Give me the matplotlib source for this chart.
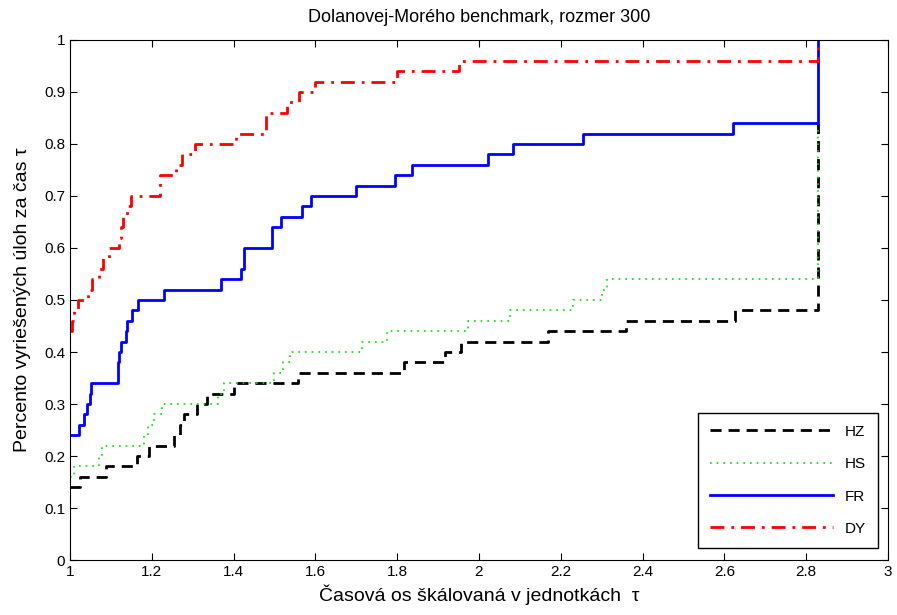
import matplotlib.pyplot as plt

plt.rcParams['font.family'] = ['Liberation Sans', 'DejaVu Sans']

# -------------------------
# Data (performance profiles, step functions)
# -------------------------
hz_tau = [1.0, 1.025, 1.087, 1.165, 1.193, 1.254, 1.27, 1.279, 1.31, 1.334, 1.40,
          1.558, 1.817, 1.918, 1.955, 2.168, 2.36, 2.627, 2.83]
hz_val = [0.14, 0.16, 0.18, 0.20, 0.22, 0.24, 0.26, 0.28, 0.30, 0.32, 0.34,
          0.36, 0.38, 0.40, 0.42, 0.44, 0.46, 0.48, 0.84]

hs_tau = [1.0, 1.01, 1.071, 1.079, 1.18, 1.19, 1.205, 1.225, 1.362, 1.377, 1.50,
          1.52, 1.538, 1.713, 1.774, 1.974, 2.076, 2.23, 2.30, 2.314, 2.83]
hs_val = [0.16, 0.18, 0.20, 0.22, 0.24, 0.26, 0.28, 0.30, 0.32, 0.34, 0.36,
          0.38, 0.40, 0.42, 0.44, 0.46, 0.48, 0.50, 0.52, 0.54, 0.84]

fr_tau = [1.0, 1.022, 1.034, 1.042, 1.048, 1.052, 1.117, 1.12, 1.124, 1.136, 1.14,
          1.152, 1.166, 1.23, 1.37, 1.418, 1.425, 1.495, 1.515, 1.567, 1.59,
          1.70, 1.795, 1.835, 2.022, 2.082, 2.255, 2.62, 2.83]
fr_val = [0.24, 0.26, 0.28, 0.30, 0.32, 0.34, 0.38, 0.40, 0.42, 0.44, 0.46,
          0.48, 0.50, 0.52, 0.54, 0.56, 0.60, 0.64, 0.66, 0.68, 0.70,
          0.72, 0.74, 0.76, 0.78, 0.80, 0.82, 0.84, 1.00]

dy_tau = [1.0, 1.005, 1.01, 1.02, 1.045, 1.055, 1.07, 1.08, 1.095, 1.12, 1.125,
          1.13, 1.14, 1.15, 1.22, 1.26, 1.275, 1.305, 1.405, 1.48, 1.53, 1.56,
          1.60, 1.80, 1.95, 2.83]
dy_val = [0.44, 0.46, 0.48, 0.50, 0.52, 0.54, 0.56, 0.58, 0.60, 0.62, 0.64,
          0.66, 0.68, 0.70, 0.74, 0.76, 0.78, 0.80, 0.82, 0.86, 0.88, 0.90,
          0.92, 0.94, 0.96, 1.00]

x_ticks = [1, 1.2, 1.4, 1.6, 1.8, 2, 2.2, 2.4, 2.6, 2.8, 3]
y_ticks = [0, 0.1, 0.2, 0.3, 0.4, 0.5, 0.6, 0.7, 0.8, 0.9, 1]

# -------------------------
# Figure
# -------------------------
fig = plt.figure(figsize=(8.97, 6.15), dpi=100)
ax = fig.add_axes([0.078, 0.0894, 0.912, 0.8456])

ax.plot(hz_tau, hz_val, drawstyle='steps-post', color='black', linestyle=(0, (4, 2.5)),
        linewidth=2, label='HZ')
ax.plot(hs_tau, hs_val, drawstyle='steps-post', color='#00e000', linestyle=(0, (1, 3)),
        linewidth=1.2, label='HS')
ax.plot(fr_tau, fr_val, drawstyle='steps-post', color='#0000ff', linestyle='-',
        linewidth=2, label='FR')
ax.plot(dy_tau, dy_val, drawstyle='steps-post', color='#ff0000', linestyle=(0, (5, 2.5, 1, 2.5)),
        linewidth=2, label='DY')

ax.set_xlim(1, 3)
ax.set_ylim(0, 1)
ax.set_xticks(x_ticks)
ax.set_xticklabels(['1', '1.2', '1.4', '1.6', '1.8', '2', '2.2', '2.4', '2.6', '2.8', '3'])
ax.set_yticks(y_ticks)
ax.set_yticklabels(['0', '0.1', '0.2', '0.3', '0.4', '0.5', '0.6', '0.7', '0.8', '0.9', '1'])
ax.tick_params(direction='in', top=True, right=True, length=5, labelsize=11)

ax.set_title('Dolanovej-Morého benchmark, rozmer 300', fontsize=13, pad=13)
ax.set_xlabel('Časová os škálovaná v jednotkách  τ', fontsize=14, labelpad=4)
ax.set_ylabel('Percento vyriešených úloh za čas τ', fontsize=14, labelpad=9)

leg = ax.legend(loc='lower right', bbox_to_anchor=(0.988, 0.023), borderaxespad=0,
                fontsize=11, handlelength=8, handletextpad=0.8, labelspacing=1.2,
                borderpad=0.8, fancybox=False, framealpha=1, edgecolor='black')
leg.get_frame().set_linewidth(1)

fig.savefig('out.png', dpi=100)
